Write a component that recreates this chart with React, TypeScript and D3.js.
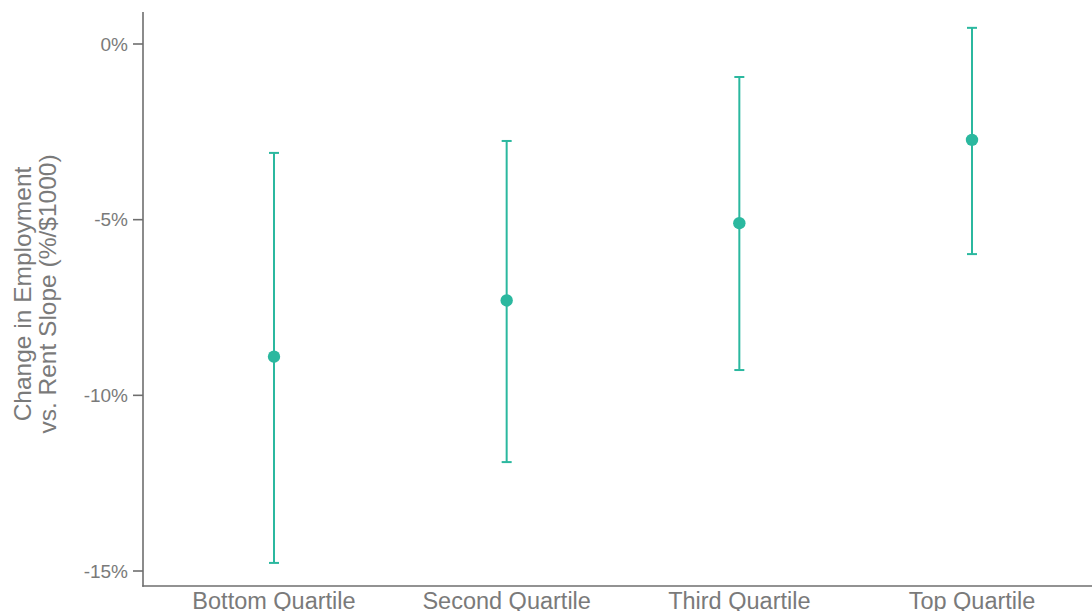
import React from "react";
import * as d3 from "d3";

const categories = ["Bottom Quartile", "Second Quartile", "Third Quartile", "Top Quartile"];
const estimates = [-8.9, -7.3, -5.1, -2.73];
const lowers = [-14.77, -11.9, -9.28, -5.98];
const uppers = [-3.1, -2.76, -0.94, 0.46];
const yTicks = [0, -5, -10, -15];

const W = 1092;
const H = 611;
const color = "#2bb89f";
const axisColor = "#6e6e6e";
const textColor = "#7a7a7a";

export default function App() {
  const x = d3.scaleLinear().domain([0, 3]).range([274, 972]);
  const y = d3.scaleLinear().domain([0, -15]).range([44, 571]);
  const axisX = 143;
  const axisY = 586;
  const top = 12;

  return (
    <svg width={W} height={H} style={{ position: "absolute", left: 0, top: 0 }} fontFamily="Liberation Sans, Arial, sans-serif">
      <rect width={W} height={H} fill="#fff" />
      {/* y axis */}
      <line x1={axisX} x2={axisX} y1={top} y2={axisY + 0.75} stroke={axisColor} strokeWidth={1.6} />
      {yTicks.map((t) => (
        <g key={t}>
          <line x1={axisX - 10} x2={axisX} y1={y(t)} y2={y(t)} stroke={axisColor} strokeWidth={1.6} />
          <text x={128} y={y(t)} dy="0.35em" textAnchor="end" fontSize={19} fill={textColor}>
            {t === 0 ? "0%" : `${t}%`}
          </text>
        </g>
      ))}
      {/* x axis */}
      <line x1={axisX - 0.75} x2={W} y1={axisY} y2={axisY} stroke={axisColor} strokeWidth={1.6} />
      {categories.map((c, i) => (
        <text key={c} x={x(i)} y={609} textAnchor="middle" fontSize={23.5} fill={textColor}>
          {c}
        </text>
      ))}
      {/* y title */}
      <g transform={`translate(0, 294) rotate(-90)`}>
        <text x={0} y={31} textAnchor="middle" fontSize={24.5} fill={textColor}>
          Change in Employment
        </text>
        <text x={0} y={56} textAnchor="middle" fontSize={24.5} fill={textColor}>
          vs. Rent Slope (%/$1000)
        </text>
      </g>
      {/* error bars */}
      {categories.map((c, i) => (
        <g key={c}>
          <line x1={x(i)} x2={x(i)} y1={y(uppers[i])} y2={y(lowers[i])} stroke={color} strokeWidth={2} />
          <line x1={x(i) - 5} x2={x(i) + 5} y1={y(uppers[i])} y2={y(uppers[i])} stroke={color} strokeWidth={2} />
          <line x1={x(i) - 5} x2={x(i) + 5} y1={y(lowers[i])} y2={y(lowers[i])} stroke={color} strokeWidth={2} />
          <circle cx={x(i)} cy={y(estimates[i])} r={6.2} fill={color} />
        </g>
      ))}
    </svg>
  );
}
